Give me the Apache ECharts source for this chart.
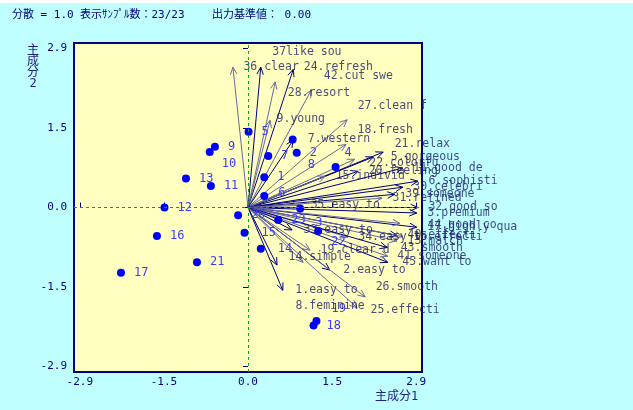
<!DOCTYPE html>
<html>
<head>
<meta charset="utf-8">
<script src="https://cdn.jsdelivr.net/npm/echarts@6/dist/echarts.min.js"></script>
<style>
html, body { margin: 0; padding: 0; background: #c0ffff; }
#chart { width: 633px; height: 410px; }
</style>
</head>
<body>
<div id="chart"></div>
<script>
// 目盛り
const tickValues = [-2.9, -1.45, 0, 1.45, 2.9];
const tickLabels = ['-2.9', '-1.5', '0.0', '1.5', '2.9'];

// サンプル得点 (主成分1, 主成分2)
const sampleNames = ['1', '2', '3', '4', '5', '6', '7', '8', '9', '10', '11', '12',
  '13', '14', '15', '16', '17', '18', '19', '20', '21', '22', '23'];
const sampleX = [0.28, 0.84, 0.90, 1.51, 0.01, 0.28, 0.35, 0.77, -0.57, -0.66, -0.64, -1.44,
  -1.07, 0.22, -0.06, -1.57, -2.19, 1.13, 1.18, -0.17, -0.88, 1.21, 0.52];
const sampleY = [0.55, 1.00, -0.02, 0.74, 1.38, 0.21, 0.94, 1.24, 1.11, 1.01, 0.39, 0.00,
  0.53, -0.75, -0.46, -0.52, -1.19, -2.15, -2.07, -0.14, -1.00, -0.43, -0.23];

// 変数ベクトル (負荷量)
const varNames = ['36.clear', '37like sou', '28.resort', '24.refresh', '42.cut swe', '9.young',
  '27.clean f', '18.fresh', '7.western', '21.relax', '5.gorgeous', '22.colorfu', '20.feeling',
  '11.good de', '15.individ', '6.sophisti', '30.celebri', '39.someone', '31.refined', '32.good so',
  '3.premium', '35.easy to', '17.highly qua', '44.good co', '40.effecti', '16.effecti', '13.match',
  '34.easy to', '43.smooth', '41.someone', '45.want to', '19.clear d', '33.easy to', '14.simple',
  '2.easy to', '1.easy to', '8.feminine', '26.smooth', '25.effecti'];
const varX = [-0.26, 0.22, 0.47, 0.78, 1.09, 0.38,
  1.71, 1.69, 0.78, 2.33, 2.16, 1.84, 1.90,
  2.67, 1.33, 2.93, 2.67, 2.53, 2.31, 2.93,
  2.91, 0.90, 2.91, 2.62, 2.57, 2.67, 2.57,
  1.72, 2.40, 2.41, 2.41, 1.07, 0.76, 0.95,
  1.41, 0.60, 0.50, 2.02, 1.88];
const varY = [2.56, 2.56, 2.29, 2.52, 2.14, 1.59,
  1.60, 1.15, 1.23, 1.01, 0.92, 0.88, 0.66,
  0.72, 0.57, 0.48, 0.37, 0.24, 0.17, 0.00,
  -0.10, 0.04, -0.36, -0.29, -0.51, -0.53, -0.61,
  -0.54, -0.73, -0.89, -1.00, -0.78, -0.41, -1.00,
  -1.14, -1.51, -1.05, -1.63, -1.83];

// 表示用 (色・ラベル位置)
const grayVars = ['36.clear', '28.resort', '42.cut swe', '9.young', '27.clean f', '18.fresh',
  '22.colorfu', '15.individ', '31.refined', '35.easy to', '44.good co', '16.effecti', '13.match',
  '34.easy to', '41.someone', '19.clear d', '14.simple', '26.smooth', '25.effecti'];
const varNudge = {
  '37like sou': [11, -15], '28.resort': [12, 11], '24.refresh': [10, -2], '42.cut swe': [12, -14],
  '9.young': [6, -1], '27.clean f': [10, -14], '18.fresh': [11, -14], '7.western': [14, -1],
  '21.relax': [11, -8], '5.gorgeous': [17, 0], '22.colorfu': [14, 4], '44.good co': [27, 2],
  '43.smooth': [13, 0], '41.someone': [9, 0], '45.want to': [14, 0], '33.easy to': [11, 0],
  '14.simple': [-15, -5], '2.easy to': [13, 0], '1.easy to': [12, 0], '8.feminine': [18, 41],
  '26.smooth': [10, -10], '25.effecti': [13, 2]
};
const sampleNudge = {
  '10': [-1, 12], '4': [-4, -14], '8': [2, 25], '6': [1, -3], '3': [2, 14],
  '22': [0, 11], '19': [2, -12], '14': [4, 0], '15': [4, 0]
};

const mono = "'DejaVu Sans Mono', 'Noto Sans CJK JP', monospace";
const navy = '#000080';

const chart = echarts.init(document.getElementById('chart'));

function tickText(v) {
  for (let i = 0; i < tickValues.length; i++) {
    if (Math.abs(tickValues[i] - v) < 1e-6) return tickLabels[i];
  }
  return '';
}

const vectorData = varNames.map((n, i) => ({
  name: n,
  value: [varX[i], varY[i]],
  itemStyle: { color: grayVars.indexOf(n) >= 0 ? '#6a6a9c' : navy }
}));

const vectorLabelData = varNames.map((n, i) => {
  const nd = varNudge[n] || [10, 0];
  return { name: n, value: [varX[i], varY[i]], label: { offset: nd } };
});

const sampleData = sampleNames.map((n, i) => {
  const nd = sampleNudge[n] || [0, 0];
  return { name: n, value: [sampleX[i], sampleY[i]], label: { offset: nd } };
});

chart.setOption({
  backgroundColor: '#c0ffff',
  animation: false,
  grid: {
    left: 74, top: 43, width: 348, height: 329,
    show: true, backgroundColor: '#ffffc0', borderColor: navy, borderWidth: 2
  },
  xAxis: {
    type: 'value', min: -3, max: 3,
    axisLine: { show: false },
    splitLine: { show: false },
    axisTick: { show: true, inside: true, length: 5, customValues: tickValues, lineStyle: { color: navy } },
    axisLabel: { customValues: tickValues, formatter: tickText, color: navy, fontFamily: mono, fontSize: 11, margin: 5 }
  },
  yAxis: {
    type: 'value', min: -3, max: 3,
    axisLine: { show: false },
    splitLine: { show: false },
    axisTick: { show: true, inside: false, length: 5, customValues: tickValues, lineStyle: { color: navy } },
    axisLabel: { customValues: tickValues, formatter: tickText, color: navy, fontFamily: mono, fontSize: 11, margin: 7 }
  },
  graphic: [
    { type: 'rect', left: 0, top: 0, shape: { width: 633, height: 3 }, style: { fill: '#ffffff' } },
    { type: 'text', x: 12, y: 15, style: { text: '分散 = 1.0', font: '11px ' + mono, fill: navy, verticalAlign: 'middle' } },
    { type: 'text', x: 80, y: 15, style: { text: '表示ｻﾝﾌﾟﾙ数：23/23', font: '11px ' + mono, fill: navy, verticalAlign: 'middle' } },
    { type: 'text', x: 212, y: 15, style: { text: '出力基準値： 0.00', font: '11px ' + mono, fill: navy, verticalAlign: 'middle' } },
    { type: 'text', x: 33, y: 45, style: { text: '主\n成\n分\n2', font: '12px ' + mono, fill: '#202080', align: 'center', lineHeight: 11 } },
    { type: 'text', x: 375, y: 397, style: { text: '主成分1', font: '12px ' + mono, fill: '#202080', verticalAlign: 'middle' } }
  ],
  series: [
    {
      name: 'vectors',
      type: 'custom',
      z: 2,
      data: vectorData,
      encode: { x: 0, y: 1 },
      renderItem: function (params, api) {
        const o = api.coord([0, 0]);
        const p = api.coord([api.value(0), api.value(1)]);
        const a = Math.atan2(p[1] - o[1], p[0] - o[0]);
        const L = 8, w = 0.42;
        const h1 = [p[0] - L * Math.cos(a - w), p[1] - L * Math.sin(a - w)];
        const h2 = [p[0] - L * Math.cos(a + w), p[1] - L * Math.sin(a + w)];
        const color = api.visual('color');
        return {
          type: 'group',
          children: [
            { type: 'line', shape: { x1: o[0], y1: o[1], x2: p[0], y2: p[1] }, style: { stroke: color, lineWidth: 1 } },
            { type: 'polyline', shape: { points: [h1, p, h2] }, style: { stroke: color, fill: null, lineWidth: 1 } }
          ]
        };
      },
      markLine: {
        silent: true,
        symbol: ['none', 'none'],
        label: { show: false },
        lineStyle: { color: '#10a010', type: [3, 3], width: 1 },
        data: [{ xAxis: 0 }, { yAxis: 0 }]
      }
    },
    {
      name: 'samples',
      type: 'scatter',
      z: 3,
      symbol: 'circle',
      symbolSize: 8,
      itemStyle: { color: '#0000ff', opacity: 1 },
      label: {
        show: true, position: 'right', distance: 9, formatter: '{b}',
        color: '#3c3cff', fontFamily: mono, fontSize: 12
      },
      data: sampleData
    },
    {
      name: 'varLabels',
      type: 'scatter',
      z: 4,
      symbolSize: 1,
      itemStyle: { color: 'rgba(0,0,0,0)' },
      label: {
        show: true, position: 'right', distance: 0, formatter: '{b}',
        color: '#1c1c66', fontFamily: mono, fontSize: 11.5
      },
      data: vectorLabelData
    }
  ]
});
</script>
</body>
</html>
